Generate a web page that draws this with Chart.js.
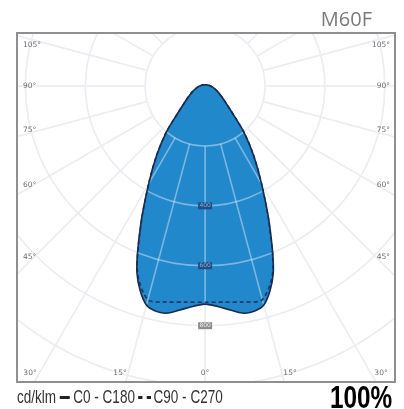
<!DOCTYPE html>
<html>
<head>
<meta charset="utf-8">
<script src="https://cdn.jsdelivr.net/npm/chart.js@4/dist/chart.umd.min.js"></script>
<style>
  body { margin: 0; background: #fff; }
  #wrap { position: relative; width: 404px; height: 409px; overflow: hidden; }
  #chart { position: absolute; left: 0; top: 0; }
  #title { position: absolute; right: 32px; top: 5px; font: 20px "Open Sans", sans-serif; color: #7a7a7a; }
  #legend { position: absolute; left: 17px; top: 386px; font: 19px "Liberation Sans", sans-serif; color: #333; white-space: nowrap; transform-origin: 0 0; }
  #legend .solid { display: inline-block; width: 14px; border-top: 3px solid #222; vertical-align: middle; margin: 0 5px; }
  #legend .dash { display: inline-block; width: 18px; border-top: 3px dashed #222; vertical-align: middle; margin: 0 4px; }
  #pct { position: absolute; left: 330px; top: 380px; font: bold 31px "Liberation Sans", sans-serif; color: #000; white-space: nowrap; transform-origin: 0 0; }
</style>
</head>
<body>
<div id="wrap">
  <canvas id="chart" width="404" height="409"></canvas>
  <div id="title">M60F</div>
  <div id="legend">cd/klm<span class="solid"></span>C0 - C180<span class="dash"></span>C90 - C270</div>
  <div id="pct">100%</div>
</div>
<script>
// gamma angles (deg from nadir) and intensities in cd/klm
const angles   = [0, 5, 10, 15, 20, 25, 30, 35, 40, 45, 50, 55, 60, 65, 70, 75, 80, 85, 90, 95, 100, 105, 110, 115, 120, 135, 150, 165, 180];
const c0_c180  = [728, 745, 770, 757, 665, 508, 377, 282, 202, 131, 94, 73, 58, 48, 39, 32, 26.5, 22, 18, 15, 13, 11, 9.6, 8.5, 7.6, 5.8, 4.9, 4.5, 4.3];
const c90_c270 = [722, 724, 732, 738, 660, 505, 377, 282, 202, 131, 94, 73, 58, 48, 39, 32, 26.5, 22, 18, 15, 13, 11, 9.6, 8.5, 7.6, 5.8, 4.9, 4.5, 4.3];

const rings = [200, 400, 600, 800, 1000];
const ringLabels = [400, 600, 800];
const spokeStep = 15;

// angle labels around the frame
const angleLabels = [
  ['105°', 23, 45, 'left'], ['90°', 23, 86, 'left'], ['75°', 23, 130, 'left'],
  ['60°', 23, 185, 'left'], ['45°', 23, 257, 'left'],
  ['105°', 390, 45, 'right'], ['90°', 390, 86, 'right'], ['75°', 390, 130, 'right'],
  ['60°', 390, 185, 'right'], ['45°', 390, 257, 'right'],
  ['30°', 30, 373, 'center'], ['15°', 120, 373, 'center'], ['0°', 205, 373, 'center'],
  ['15°', 290, 373, 'center'], ['30°', 381, 373, 'center']
];

function polarPoints(vals) {
  const pts = [];
  for (let i = angles.length - 1; i >= 0; i--) {
    const a = angles[i] * Math.PI / 180;
    pts.push({ x: -vals[i] * Math.sin(a), y: -vals[i] * Math.cos(a) });
  }
  for (let i = 1; i < angles.length; i++) {
    const a = angles[i] * Math.PI / 180;
    pts.push({ x: vals[i] * Math.sin(a), y: -vals[i] * Math.cos(a) });
  }
  return pts;
}

function drawGrid(chart, color, width) {
  const ctx = chart.ctx, area = chart.chartArea;
  const xs = chart.scales.x, ys = chart.scales.y;
  const cx = xs.getPixelForValue(0), cy = ys.getPixelForValue(0);
  ctx.save();
  ctx.beginPath();
  ctx.rect(area.left, area.top, area.right - area.left, area.bottom - area.top);
  ctx.clip();
  ctx.strokeStyle = color;
  ctx.lineWidth = width;
  rings.forEach(r => {
    ctx.beginPath();
    ctx.ellipse(cx, cy, xs.getPixelForValue(r) - cx, cy - ys.getPixelForValue(r), 0, 0, Math.PI * 2);
    ctx.stroke();
  });
  for (let a = 0; a < 360; a += spokeStep) {
    const t = a * Math.PI / 180;
    const r0 = rings[0], r1 = 1600;
    ctx.beginPath();
    ctx.moveTo(xs.getPixelForValue(r0 * Math.sin(t)), ys.getPixelForValue(-r0 * Math.cos(t)));
    ctx.lineTo(xs.getPixelForValue(r1 * Math.sin(t)), ys.getPixelForValue(-r1 * Math.cos(t)));
    ctx.stroke();
  }
  ctx.restore();
}

const gridPlugin = {
  id: 'polarGrid',
  beforeDatasetsDraw(chart) {
    drawGrid(chart, '#ebebeb', 1.5);
  },
  afterDatasetDraw(chart, args) {
    if (args.index !== 2) return;
    drawGrid(chart, 'rgba(235,240,250,0.45)', 1.6);
  },
  afterDraw(chart) {
    const ctx = chart.ctx, area = chart.chartArea;
    const xs = chart.scales.x, ys = chart.scales.y;
    ctx.save();
    // ring value labels
    ctx.font = '6px "DejaVu Sans", sans-serif';
    ctx.textAlign = 'center';
    ctx.textBaseline = 'middle';
    ringLabels.forEach(r => {
      const px = xs.getPixelForValue(0), py = ys.getPixelForValue(-r);
      ctx.fillStyle = r === 800 ? '#8c8c8c' : '#1f4f85';
      ctx.fillRect(px - 7, py - 3.5, 14, 7);
      ctx.fillStyle = r === 800 ? '#eeeeee' : '#8eaad0';
      ctx.fillText(String(r), px, py);
    });
    // angle labels
    ctx.font = '7.5px "DejaVu Sans", sans-serif';
    ctx.fillStyle = '#6f6f6f';
    angleLabels.forEach(([t, x, y, al]) => {
      ctx.textAlign = al;
      ctx.fillText(t, x, y);
    });
    // frame
    ctx.strokeStyle = '#8f8f8f';
    ctx.lineWidth = 2;
    ctx.strokeRect(area.left, area.top, area.right - area.left, area.bottom - area.top);
    ctx.restore();
  }
};

new Chart(document.getElementById('chart'), {
  type: 'scatter',
  data: {
    datasets: [
      {
        label: 'C0 - C180',
        data: polarPoints(c0_c180),
        showLine: true,
        borderColor: '#1b2b4b',
        borderWidth: 1.6,
        pointRadius: 0,
        tension: 0.3,
        fill: false
      },
      {
        label: 'C90 - C270',
        data: polarPoints(c90_c270),
        showLine: true,
        borderColor: '#1b3466',
        borderWidth: 1.6,
        borderDash: [4, 3],
        pointRadius: 0,
        tension: 0.3,
        fill: false
      },
      {
        label: 'fill',
        data: polarPoints(c0_c180),
        showLine: true,
        borderWidth: 0,
        borderColor: 'rgba(0,0,0,0)',
        backgroundColor: '#2188cc',
        pointRadius: 0,
        tension: 0.3,
        fill: 'shape'
      }
    ]
  },
  options: {
    responsive: false,
    animation: false,
    layout: { padding: { left: 17, right: 9, top: 33, bottom: 27 } },
    scales: {
      x: { type: 'linear', display: false, min: -628, max: 634 },
      y: { type: 'linear', display: false, min: -988, max: 177 }
    },
    plugins: { legend: { display: false }, tooltip: { enabled: false } }
  },
  plugins: [gridPlugin]
});

// squeeze the footer texts to the condensed widths of the original
function fitWidth(id, w) {
  const el = document.getElementById(id);
  el.style.transform = 'scaleX(' + (w / el.scrollWidth) + ')';
}
fitWidth('legend', 206);
fitWidth('pct', 62);
</script>
</body>
</html>
